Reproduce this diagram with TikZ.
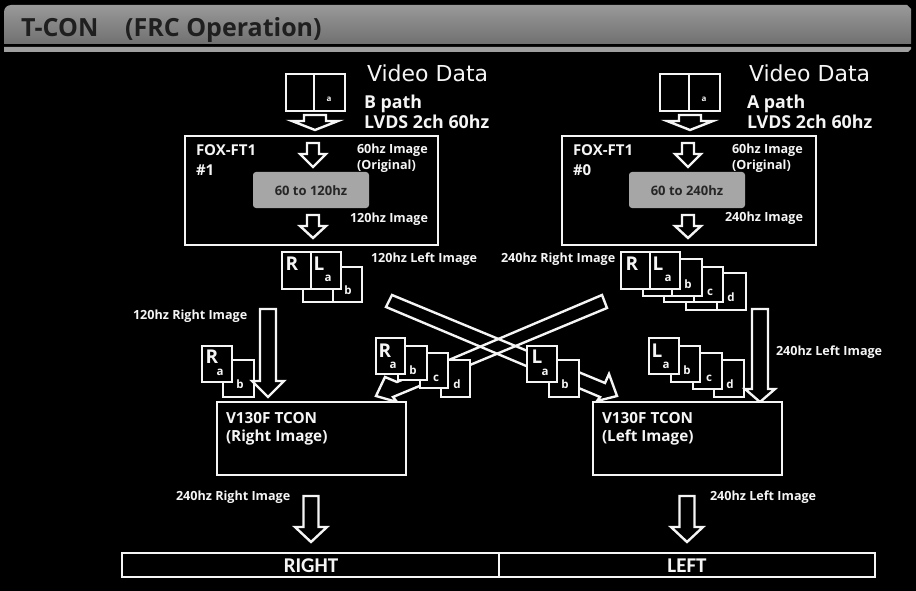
\documentclass[tikz,border=0pt]{standalone}
\usepackage{fontspec}
\setmainfont{Open Sans}
\newfontfamily\vfont{DejaVu Sans}
\newfontfamily\cfont{Carlito}
\usetikzlibrary{fit,calc}
\definecolor{fg}{gray}{0.96}
\definecolor{graybox}{gray}{0.65}
\definecolor{bartop}{gray}{0.60}
\definecolor{barbot}{gray}{0.44}
\tikzset{
  st/.style={draw=fg,line width=2.4pt,fill=black,inner sep=0pt,outer sep=0pt},
  ln/.style={draw=fg,line width=2.4pt,line join=miter},
  txw/.style={text=fg,inner sep=0pt,outer sep=0pt,anchor=west},
  lbl/.style={txw,yshift=-1pt,text height=9pt,text depth=2.5pt,font=\bfseries\fontsize{12.6}{14}\selectfont},
  blk/.style={txw,yshift=-2pt,text height=10.8pt,text depth=3pt,font=\bfseries\fontsize{15}{17}\selectfont},
  big/.style={txw,yshift=-2pt,text height=12.8pt,text depth=3.6pt,font=\bfseries\fontsize{17.8}{20}\selectfont},
  tcn/.style={txw,yshift=-1.5pt,text height=11pt,text depth=3pt,font=\bfseries\fontsize{15.3}{18}\selectfont},
  vid/.style={txw,yshift=-3pt,text height=16pt,text depth=4.4pt,font=\vfont\fontsize{22}{26}\selectfont},
  let/.style={text=fg,inner sep=0pt,outer sep=0pt,font=\bfseries\fontsize{19}{22}\selectfont},
  sm/.style={text=fg,inner sep=0pt,outer sep=0pt,font=\bfseries\fontsize{11.5}{13}\selectfont},
  vsm/.style={sm,font=\bfseries\fontsize{8}{9}\selectfont},
  gb/.style={fill=graybox,rounded corners=3pt,inner sep=0pt,outer sep=0pt},
  dark/.style={text=black!85,inner sep=0pt,outer sep=0pt,font=\bfseries\fontsize{13}{15}\selectfont},
  disp/.style={text=fg,inner sep=0pt,outer sep=0pt,font=\cfont\bfseries\fontsize{21}{24}\selectfont},
  ttl/.style={inner sep=0pt,anchor=west,yshift=-3pt,text=black!88,text height=18pt,text depth=5pt,font=\bfseries\fontsize{25}{30}\selectfont},
}
% name, x1, y1, x2, y2
\newcommand{\bx}[6][st]{\node[#1,fit={(#3,#4)(#5,#6)}] (#2) {};}
% centre x, top y, wing y, tip y, shaft half width, wing half width
\newcommand{\dn}[6]{\draw[ln,fill=black] (#1-#5,#2) -- (#1+#5,#2) -- (#1+#5,#3) -- (#1+#6,#3) -- (#1,#4) -- (#1-#6,#3) -- (#1-#5,#3) -- cycle;}
\begin{document}
\begin{tikzpicture}[x=1pt,y=-1pt]
\useasboundingbox (0,0) rectangle (916,591);
\fill[black] (0,0) rectangle (916,591);
% title bar
\path[top color=bartop,bottom color=barbot]
  (4,44) -- (4,12) arc[start angle=180,end angle=90,radius=7pt] -- (907,5) -- (911,9) -- (911,44) -- cycle;
\fill[gray!75] (4,47) -- (911,47) -- (911,49) -- (908,52) -- (4,52) -- cycle;
\node[ttl] (title1) at (21,27) {T-CON};
\node[ttl] (title2) at (125,27) {(FRC Operation)};

% ---------- left column top
\bx{vl}{286}{74}{345}{111}
\draw[ln] (314,74) -- (314,111);
\node[vsm] (vla) at (329,99) {a};
\dn{315}{115}{121}{130}{11}{23}
\node[vid] (vdl) at (367,73) {Video Data};
\node[big] (pbl) at (364,102) {B path};
\node[big] (lvl) at (364,122) {LVDS 2ch 60hz};
\bx{foxl}{185}{136}{438}{245}
\node[blk] (fl1) at (196,150) {FOX-FT1};
\node[blk] (fl2) at (196,170) {\#1};
\dn{313}{143}{154}{167}{6}{13}
\dn{313}{215}{226}{238}{6}{13}
\node[lbl] (il1) at (357,149) {60hz Image};
\node[lbl] (il2) at (357,165) {(Original)};
\node[lbl] (il3) at (350,218) {120hz Image};
\bx[gb]{gl}{253}{172}{369}{208}
\node[dark] (gtl) at (311,191) {60 to 120hz};
% left frames
\bx{flb}{303}{267}{362}{302}
\draw[ln] (333,267) -- (333,302);
\bx{fla}{282}{252}{341}{289}
\draw[ln] (311,252) -- (311,289);
\node[let] at (292,264) (rl) {R};
\node[let] at (319,264) (ll) {L};
\node[sm] at (328,278) (al) {a};
\node[sm] at (348,290) (bl) {b};
\node[lbl] (t120l) at (371,258) {120hz Left Image};

% ---------- right column top
\bx{vr}{660}{74}{720}{111}
\draw[ln] (689,74) -- (689,111);
\node[vsm] (vra) at (704,99) {a};
\dn{690}{115}{121}{130}{11}{23}
\node[vid] (vdr) at (749,73) {Video Data};
\node[big] (pbr) at (747,102) {A path};
\node[big] (lvr) at (747,122) {LVDS 2ch 60hz};
\bx{foxr}{562}{136}{816}{245}
\node[blk] (fr1) at (573,150) {FOX-FT1};
\node[blk] (fr2) at (573,170) {\#0};
\dn{688}{143}{154}{167}{6}{13}
\dn{688}{215}{226}{238}{6}{13}
\node[lbl] (ir1) at (732,149) {60hz Image};
\node[lbl] (ir2) at (732,165) {(Original)};
\node[lbl] (ir3) at (725,217) {240hz Image};
\bx[gb]{gr}{629}{172}{745}{208}
\node[dark] (gtr) at (687,191) {60 to 240hz};
% right frames
\bx{frd}{686}{273}{746}{310}
\draw[ln] (717,273) -- (717,310);
\bx{frc}{664}{267}{723}{302}
\draw[ln] (694,267) -- (694,302);
\bx{frb}{643}{259}{702}{296}
\draw[ln] (672,259) -- (672,296);
\bx{fra}{621}{252}{680}{289}
\draw[ln] (650,252) -- (650,289);
\node[let] at (632,264) (rr) {R};
\node[let] at (658,264) (lr) {L};
\node[sm] at (668,278) (ar) {a};
\node[sm] at (688,284) (br) {b};
\node[sm] at (710,292) (cr) {c};
\node[sm] at (731,297) (drr) {d};
\node[lbl] (t240r) at (501,258) {240hz Right Image};

% ---------- crossing arrows
\coordinate (ra1) at (602,295); \coordinate (ra2) at (607,308);
\coordinate (ra3) at (393,397); \coordinate (ra4) at (397,402);
\coordinate (ra5) at (376,396); \coordinate (ra6) at (385,377); \coordinate (ra7) at (397,382);
\draw[ln] (ra1) -- (ra2) -- (ra3) -- (ra4) -- (ra5) -- (ra6) -- (ra7) -- cycle;
\coordinate (la1) at (392,295); \coordinate (la2) at (386,307);
\coordinate (la3) at (600,397); \coordinate (la4) at (597,401);
\coordinate (la5) at (617,396); \coordinate (la6) at (609,374); \coordinate (la7) at (605,383);
\draw[ln] (la1) -- (la2) -- (la3) -- (la4) -- (la5) -- (la6) -- (la7) -- cycle;

% ---------- lower left
\node[lbl] (t120r) at (133,315) {120hz Right Image};
\bx{lb}{223}{360}{254}{397}
\bx{la}{202}{346}{232}{382}
\node[let] at (212,357) (lbr) {R};
\node[sm] at (220,372) (lba) {a};
\node[sm] at (240,384) (lbb) {b};
\dn{268}{309}{381}{397}{8}{16}
\bx{tl}{217}{402}{406}{475}
\node[tcn] (tl1) at (226,418) {V130F TCON};
\node[tcn] (tl2) at (226,436) {(Right Image)};
% R stack
\bx{sd}{441}{360}{470}{397}
\bx{sc}{420}{353}{448}{388}
\bx{sb}{398}{346}{427}{380}
\bx{sa}{376}{338}{405}{374}
\node[let] at (385,351) (sar) {R};
\node[sm] at (393,365) (saa) {a};
\node[sm] at (413,370) (sab) {b};
\node[sm] at (436,378) (sac) {c};
\node[sm] at (457,384) (sad) {d};

% ---------- lower right
\bx{mb}{549}{360}{579}{397}
\bx{ma}{527}{346}{557}{382}
\node[let] at (537,357) (mal) {L};
\node[sm] at (545,372) (maa) {a};
\node[sm] at (565,384) (mab) {b};
\bx{nd}{714}{360}{744}{397}
\bx{nc}{693}{353}{722}{389}
\bx{nb}{671}{346}{700}{382}
\bx{na}{649}{338}{679}{374}
\node[let] at (657,351) (nal) {L};
\node[sm] at (666,365) (naa) {a};
\node[sm] at (687,370) (nab) {b};
\node[sm] at (709,378) (nac) {c};
\node[sm] at (730,384) (nad) {d};
\dn{760}{309}{389}{402}{8}{15}
\node[lbl] (t240l) at (776,351) {240hz Left Image};
\bx{tr}{593}{402}{782}{475}
\node[tcn] (tr1) at (602,418) {V130F TCON};
\node[tcn] (tr2) at (602,436) {(Left Image)};

% ---------- bottom
\node[lbl] (o1) at (176,496) {240hz Right Image};
\node[lbl] (o2) at (710,496) {240hz Left Image};
\dn{311}{496}{527}{542}{7.5}{16}
\dn{687}{496}{527}{542}{7.5}{16}
\bx{bar}{122}{553}{875}{577}
\draw[ln] (499,553) -- (499,577);
\node[disp] (dr) at (311,566) {RIGHT};
\node[disp] (dl) at (687,566) {LEFT};
\end{tikzpicture}
\end{document}
